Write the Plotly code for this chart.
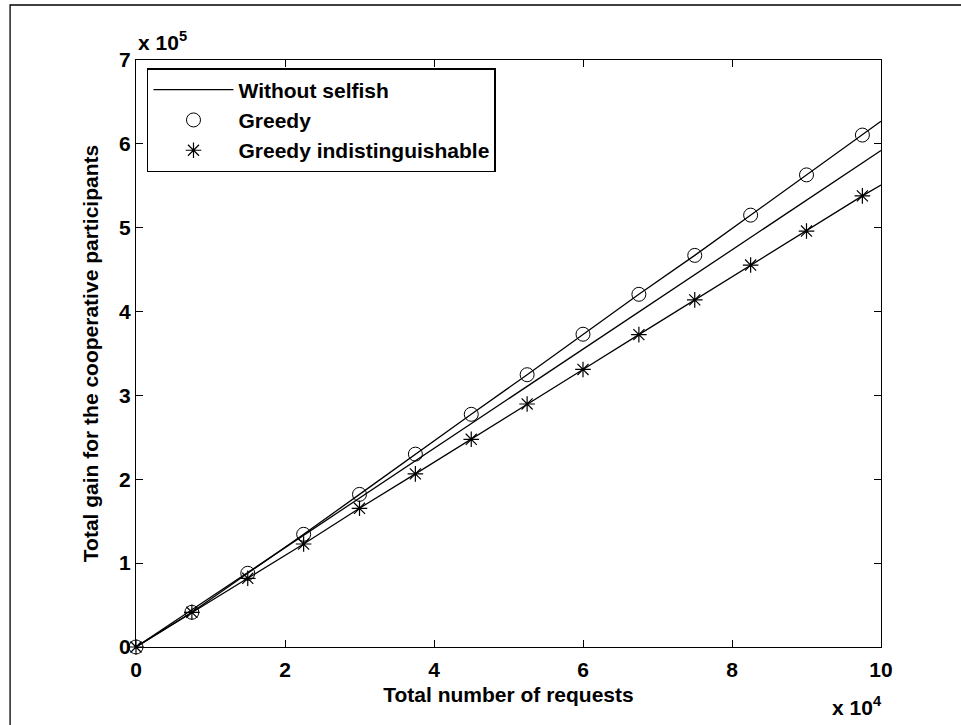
import plotly.graph_objects as go

# x positions of the samples (number of requests)
x_pts = [0, 7500, 15000, 22500, 30000, 37500, 45000, 52500, 60000, 67500, 75000, 82500, 90000, 97500]
x_line = x_pts + [100000]

# Greedy (circle markers)
greedy = [0, 41400, 87900, 134400, 182000, 230000, 277500, 324700, 373000, 420600, 467000, 515000, 563000, 610500]
greedy_line = greedy + [627000]

# Greedy indistinguishable (star markers)
greedy_ind = [0, 41400, 81900, 122800, 165400, 206500, 247700, 289800, 331000, 372500, 414000, 455500, 496000, 538000]
greedy_ind_line = greedy_ind + [551000]

# Without selfish (line only)
without_selfish = [0, 44400, 88800, 133200, 177600, 222000, 266400, 310800, 355200, 399600, 444000, 488400, 532800, 577200, 592000]

x_tickvals = [0, 20000, 40000, 60000, 80000, 100000]
x_ticktext = ["0", "2", "4", "6", "8", "10"]
y_tickvals = [0, 100000, 200000, 300000, 400000, 500000, 600000, 700000]
y_ticktext = ["0", "1", "2", "3", "4", "5", "6", "7"]

FONT = "Liberation Sans, Arial, Helvetica, sans-serif"
FS = 21

fig = go.Figure()
fig.add_trace(go.Scatter(x=x_line, y=without_selfish, mode="lines", name="Without selfish",
                         line=dict(color="black", width=1.3)))
fig.add_trace(go.Scatter(x=x_line, y=greedy_line, mode="lines", showlegend=False,
                         line=dict(color="black", width=1.3)))
fig.add_trace(go.Scatter(x=x_line, y=greedy_ind_line, mode="lines", showlegend=False,
                         line=dict(color="black", width=1.3)))
fig.add_trace(go.Scatter(x=x_pts, y=greedy, mode="markers", name="Greedy", cliponaxis=False,
                         marker=dict(symbol="circle-open", size=14, color="black",
                                     line=dict(width=1, color="black"))))
fig.add_trace(go.Scatter(x=x_pts, y=greedy_ind, mode="markers", name="Greedy indistinguishable",
                         cliponaxis=False,
                         marker=dict(symbol="asterisk-open", size=13, color="black",
                                     line=dict(width=1.2, color="black"))))

W, H = 961, 725
L, R, T, B = 136, 961 - 881.5, 60, 78
pw, ph = W - L - R, H - T - B

def px_x(p):
    return (p - L) / pw

def px_y(p):
    return (H - B - p) / ph

fig.update_layout(
    width=W, height=H,
    margin=dict(l=L, r=R, t=T, b=B, autoexpand=False),
    paper_bgcolor="white", plot_bgcolor="white",
    font=dict(family=FONT, size=FS, color="black", weight="bold"),
    showlegend=True,
    legend=dict(x=px_x(147), y=px_y(68), xanchor="left", yanchor="top",
                bgcolor="white", bordercolor="black", borderwidth=1.5,
                font=dict(family=FONT, size=FS, color="black", weight="bold"),
                itemwidth=80, tracegroupgap=0),
    xaxis=dict(range=[0, 100000], tickvals=x_tickvals, ticktext=x_ticktext,
               ticks="inside", ticklen=7, tickwidth=1, tickcolor="black",
               ticklabelstandoff=4,
               showline=True, linecolor="black", linewidth=1.3, mirror="ticks",
               showgrid=False, zeroline=False,
               title=dict(text="Total number of requests", standoff=6,
                          font=dict(family=FONT, size=FS, weight="bold"))),
    yaxis=dict(range=[0, 700000], tickvals=y_tickvals, ticktext=y_ticktext,
               ticks="inside", ticklen=7, tickwidth=1, tickcolor="black",
               showline=True, linecolor="black", linewidth=1.3, mirror="ticks",
               showgrid=False, zeroline=False,
               title=dict(text="Total gain for the cooperative participants", standoff=14,
                          font=dict(family=FONT, size=FS, weight="bold"))),
    annotations=[
        dict(text="x 10<sup>5</sup>", xref="paper", yref="paper", x=px_x(136), y=px_y(56),
             xanchor="left", yanchor="bottom", showarrow=False,
             font=dict(family=FONT, size=FS, weight="bold")),
        dict(text="x 10<sup>4</sup>", xref="paper", yref="paper", x=px_x(885), y=px_y(721),
             xanchor="right", yanchor="bottom", showarrow=False,
             font=dict(family=FONT, size=FS, weight="bold")),
    ],
    shapes=[
        dict(type="rect", xref="paper", yref="paper",
             x0=px_x(10), x1=px_x(990), y0=px_y(760), y1=px_y(5),
             line=dict(color="black", width=1.3), fillcolor="rgba(0,0,0,0)", layer="below"),
    ],
)

fig.write_html("out.html")
